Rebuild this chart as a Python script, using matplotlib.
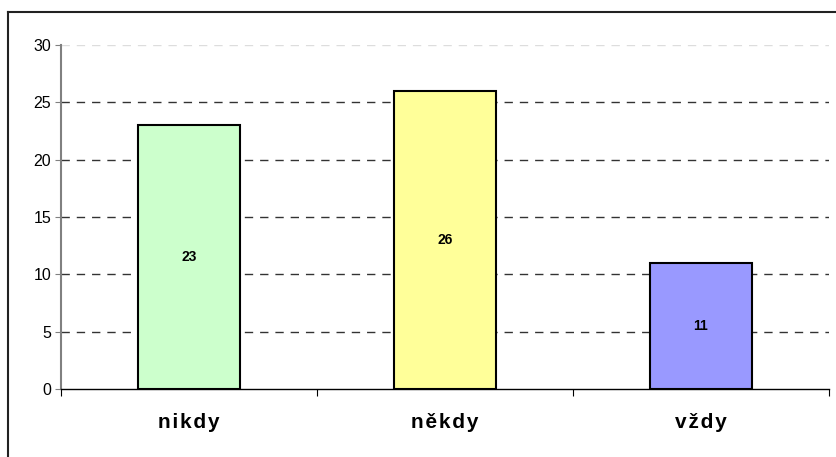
import matplotlib.pyplot as plt
from matplotlib.lines import Line2D

kategorie = ['nikdy', 'někdy', 'vždy']
pocty = [23, 26, 11]
barvy = ['#CCFFCC', '#FFFF99', '#9999FF']
y_ticks = [0, 5, 10, 15, 20, 25, 30]

plt.rcParams['font.family'] = ['Liberation Sans', 'DejaVu Sans']

fig = plt.figure(figsize=(8.37, 4.57), dpi=100)
ax = fig.add_axes([61 / 837, 1 - 389 / 457, 768 / 837, 344 / 457])

# rámeček oblasti grafu (horní a levá hrana)
fig.add_artist(Line2D([8 / 837, 1.0], [1 - 12 / 457, 1 - 12 / 457],
                      transform=fig.transFigure, color='#222222', lw=1.5))
fig.add_artist(Line2D([8 / 837, 8 / 837], [0.0, 1 - 12 / 457],
                      transform=fig.transFigure, color='#222222', lw=1.5))

# vodorovné čáry mřížky
for y in y_ticks[1:]:
    barva = '#dddddd' if y == 30 else '#333333'
    ax.axhline(y, color=barva, lw=1, ls=(0, (6, 5)), zorder=0)

x = range(len(kategorie))
ax.bar(x, pocty, width=0.40, color=barvy, edgecolor='black', linewidth=1.5, zorder=2)

for i, v in enumerate(pocty):
    ax.text(i, v / 2, str(v), ha='center', va='center', fontsize=10,
            fontweight='bold', zorder=3)

ax.set_xlim(-0.5, 2.5)
ax.set_ylim(0, 30)
ax.set_yticks(y_ticks)
ax.tick_params(axis='y', labelsize=11.5, length=4, color='#808080', pad=3)

ax.set_xticks([-0.5, 0.5, 1.5, 2.5])
ax.set_xticklabels([])
ax.tick_params(axis='x', length=5, direction='out', color='black')
# popisky kategorií s mírně proloženými písmeny
for i, k in enumerate(kategorie):
    ax.text(i, -2.9, '\u200a'.join(k), ha='center', va='center', fontsize=15,
            fontweight='bold')

for s in ['top', 'right']:
    ax.spines[s].set_visible(False)
ax.spines['left'].set_color('#808080')
ax.spines['left'].set_linewidth(1.5)
ax.spines['bottom'].set_color('black')
ax.spines['bottom'].set_linewidth(1)

fig.savefig('out.png', dpi=100)
